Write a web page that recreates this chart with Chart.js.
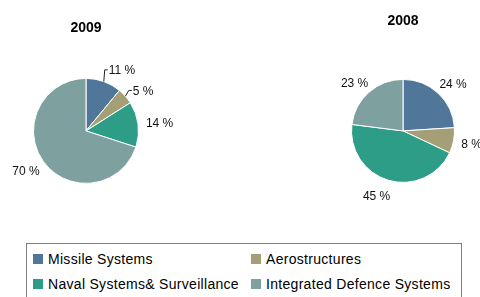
<!DOCTYPE html>
<html>
<head>
<meta charset="utf-8">
<script src="https://cdn.jsdelivr.net/npm/chart.js@4/dist/chart.umd.min.js"></script>
<style>
  html, body { margin: 0; padding: 0; background: #fff; }
  body { width: 480px; height: 297px; position: relative; overflow: hidden; font-family: Arial, "Liberation Sans", sans-serif; }
  .pie { position: absolute; top: 0; }
  #legende {
    position: absolute; left: 26px; top: 243px; width: 436px; height: 70px;
    border: 1px solid #7f7f7f; box-sizing: border-box; padding: 2px 0 0 6px;
    display: grid; grid-template-columns: 218px 212px; grid-auto-rows: 25px;
  }
  .item { display: flex; align-items: center; font-size: 14px; letter-spacing: 0.3px; color: #000; white-space: nowrap; }
  .caja { width: 10px; height: 10px; margin-right: 5px; flex: none; }
</style>
</head>
<body>
<canvas id="grafico2009" class="pie" style="left:0px" width="240" height="220"></canvas>
<canvas id="grafico2008" class="pie" style="left:240px" width="240" height="220"></canvas>
<div id="legende"></div>
<script>
const categorias = ['Missile Systems', 'Aerostructures', 'Naval Systems& Surveillance', 'Integrated Defence Systems'];
const valores2009 = [11, 5, 14, 70];
const valores2008 = [24, 8, 45, 23];
const colores = ['#50779a', '#a59f78', '#2e9d87', '#7ea1a0'];

// desplazamiento de etiquetas [dx, dy, línea guía], en px
const ajustes2009 = [[11, 1, true], [4, 3, true], null, null];
const ajustes2008 = [null, null, [-6, 1, false], null];

const etiquetasPlugin = {
    id: 'etiquetas',
    afterDatasetsDraw(chart, args, opts) {
        const ctx = chart.ctx;
        const arcos = chart.getDatasetMeta(0).data;
        const valores = chart.data.datasets[0].data;
        ctx.save();
        ctx.font = '12px Arial, "Liberation Sans", sans-serif';
        ctx.fillStyle = '#111';
        ctx.strokeStyle = '#222';
        ctx.lineWidth = 1;
        ctx.textAlign = 'center';
        ctx.textBaseline = 'middle';
        arcos.forEach((arco, i) => {
            const p = arco.getProps(['x', 'y', 'startAngle', 'endAngle', 'outerRadius'], true);
            const medio = (p.startAngle + p.endAngle) / 2;
            const cos = Math.cos(medio), sin = Math.sin(medio);
            const texto = valores[i] + ' %';
            const w = ctx.measureText(texto).width;
            const h = 12;
            const ax = p.x + (p.outerRadius + 8) * cos;
            const ay = p.y + (p.outerRadius + 8) * sin;
            let cx = ax + (w / 2) * cos;
            let cy = ay + (h / 2) * sin + 1.5;
            const ajuste = opts.ajustes ? opts.ajustes[i] : null;
            if (ajuste) {
                cx += ajuste[0];
                cy += ajuste[1];
                if (ajuste[2]) {
                    const izq = cx - w / 2;
                    ctx.beginPath();
                    ctx.moveTo(p.x + p.outerRadius * cos, p.y + p.outerRadius * sin);
                    ctx.lineTo(izq - 4, cy - 1);
                    ctx.lineTo(izq - 1, cy - 1);
                    ctx.stroke();
                }
            }
            ctx.fillText(texto, cx, cy);
        });
        ctx.restore();
    }
};

function crearPie(id, titulo, valores, ajustes, padding, tituloPad) {
    return new Chart(document.getElementById(id).getContext('2d'), {
        type: 'pie',
        data: {
            labels: categorias,
            datasets: [{
                data: valores,
                backgroundColor: colores,
                borderColor: '#ffffff',
                borderWidth: 1
            }]
        },
        options: {
            responsive: false,
            animation: false,
            layout: { padding: padding },
            plugins: {
                legend: { display: false },
                tooltip: { enabled: false },
                title: {
                    display: true,
                    text: titulo,
                    color: '#000',
                    font: { family: 'Arial, "Liberation Sans", sans-serif', size: 14, weight: 'bold', lineHeight: 1.2 },
                    padding: tituloPad
                },
                etiquetas: { ajustes: ajustes }
            }
        },
        plugins: [etiquetasPlugin]
    });
}

crearPie('grafico2009', '2009', valores2009, ajustes2009,
    { left: 33, right: 101, top: 0, bottom: 36 }, { top: 20, bottom: 41 });
crearPie('grafico2008', '2008', valores2008, ajustes2008,
    { left: 111, right: 25, top: 0, bottom: 37 }, { top: 13, bottom: 49 });

// leyenda compartida
const leyenda = document.getElementById('legende');
categorias.forEach((cat, i) => {
    const item = document.createElement('div');
    item.className = 'item';
    const caja = document.createElement('span');
    caja.className = 'caja';
    caja.style.background = colores[i];
    item.appendChild(caja);
    item.appendChild(document.createTextNode(cat));
    leyenda.appendChild(item);
});
</script>
</body>
</html>
